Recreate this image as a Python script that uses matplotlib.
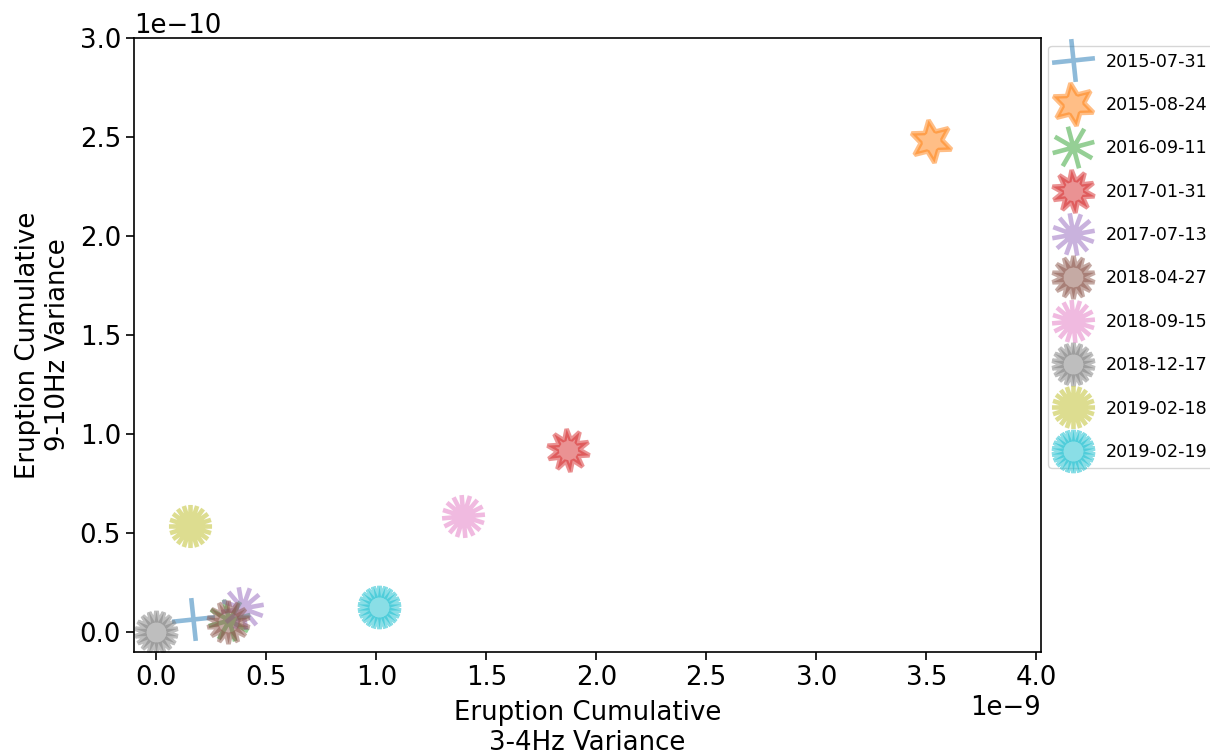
import matplotlib
matplotlib.use('Agg')
import numpy as np
from matplotlib import pyplot as plt
from matplotlib.path import Path
from matplotlib.markers import MarkerStyle

# eruption dates and cumulative variances
dates = ['2015-07-31', '2015-08-24', '2016-09-11', '2017-01-31', '2017-07-13',
         '2018-04-27', '2018-09-15', '2018-12-17', '2019-02-18', '2019-02-19']
var_3_4hz = [0.168e-9, 3.52e-9, 0.33e-9, 1.87e-9, 0.39e-9,
             0.327e-9, 1.395e-9, 0.0, 0.155e-9, 1.014e-9]
var_9_10hz = [0.065e-10, 2.48e-10, 0.06e-10, 0.92e-10, 0.125e-10,
              0.05e-10, 0.588e-10, 0.0, 0.538e-10, 0.126e-10]

# marker: number of points, style (2 = asterisk, 1 = star), rotation
n_points = [4, 6, 8, 10, 12, 14, 16, 18, 20, 22]
styles = [2, 1, 2, 1, 2, 1, 2, 1, 2, 1]
angles = [6, 8, 15, 5, 10, 0, 5, 0, 0, 0]


def asterisk(n, angle):
    # separate spokes from the centre, so the arms are stroked only once
    verts, codes = [], []
    for k in range(n):
        t = np.pi / 2 + 2 * np.pi * k / n + np.radians(angle)
        verts += [(0, 0), (np.cos(t), np.sin(t))]
        codes += [Path.MOVETO, Path.LINETO]
    verts.append((1, 1))  # keep normalisation at radius 1
    codes.append(Path.MOVETO)
    return MarkerStyle(Path(verts, codes), capstyle='butt')


def main():
    plt.rcParams['font.size'] = 18.7
    fig, ax = plt.subplots(figsize=(12.1, 7.53), dpi=100)
    fig.subplots_adjust(left=0.111, right=0.86, top=0.95, bottom=0.134)

    for i, d in enumerate(dates):
        if styles[i] == 2:
            m = asterisk(n_points[i], angles[i])
            ms = 31
        else:
            m = MarkerStyle((n_points[i], styles[i], angles[i]))
            ms = 31
        ax.plot(var_3_4hz[i], var_9_10hz[i], linestyle='none', color=f'C{i}',
                marker=m, markersize=ms, markeredgewidth=3.3, alpha=0.5,
                label=d)

    ax.set_xlim(-0.1e-9, 4.02e-9)
    ax.set_ylim(-0.1e-10, 3.0e-10)
    ax.tick_params(labelsize=18.7, length=6, width=1.2)
    for sp in ax.spines.values():
        sp.set_linewidth(1.2)
    ax.set_xlabel('Eruption Cumulative\n3-4Hz Variance', fontsize=18.7, labelpad=6)
    ax.set_ylabel('Eruption Cumulative\n9-10Hz Variance', fontsize=18.7, labelpad=6)
    ax.xaxis.get_offset_text().set_fontsize(18.7)
    ax.yaxis.get_offset_text().set_fontsize(18.7)

    ax.legend(loc='upper left', bbox_to_anchor=(1.0, 1.0), fontsize=12.6,
              labelspacing=1.45, borderaxespad=0.45, handletextpad=0.9)

    fig.savefig('out.png', dpi=100)


main()
